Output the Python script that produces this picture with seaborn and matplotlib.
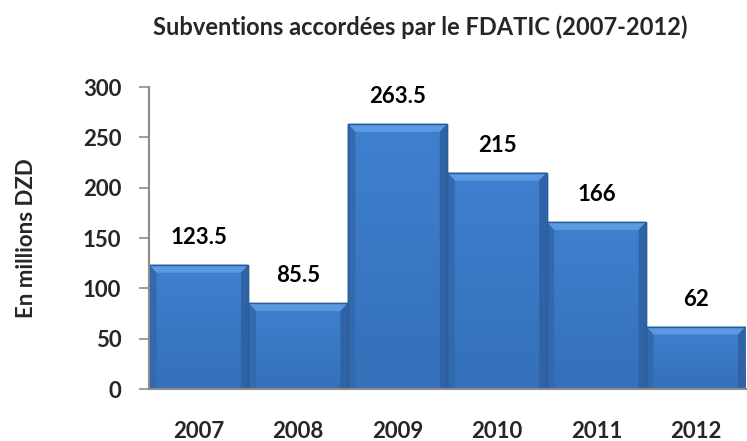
import matplotlib
matplotlib.use("Agg")
import matplotlib.pyplot as plt
import seaborn as sns
import numpy as np
import pandas as pd
from matplotlib.patches import Polygon
from matplotlib.colors import LinearSegmentedColormap

years = ["2007", "2008", "2009", "2010", "2011", "2012"]
values = [123.5, 85.5, 263.5, 215, 166, 62]
value_labels = ["123.5", "85.5", "263.5", "215", "166", "62"]
yticks = [0, 50, 100, 150, 200, 250, 300]
title = "Subventions accordées par le FDATIC (2007-2012)"
ylabel = "En millions DZD"

sns.set_theme(style="white")
plt.rcParams['font.family'] = ['Lato', 'DejaVu Sans']
plt.rcParams['font.weight'] = 'bold'

df = pd.DataFrame({"year": years, "value": values})

fig = plt.figure(figsize=(7.47, 4.41), dpi=100)
ax = fig.add_axes([0.1995, 0.1179, 0.7985, 0.6848])

sns.barplot(data=df, x="year", y="value", ax=ax, width=1.0, color="#3d7cc9",
            saturation=1, edgecolor="#2b5c99", linewidth=1.0)

ax.set_xlim(-0.5, 5.5)
ax.set_ylim(0, 300)
ax.set_yticks(yticks)
ax.set_yticklabels([str(t) for t in yticks], fontsize=16, fontweight='bold')
ax.set_xticks(range(len(years)))
ax.set_xticklabels(years, fontsize=16, fontweight='bold')
ax.tick_params(axis='x', length=0, pad=23)
ax.tick_params(axis='y', length=7, width=1.2, color='#8c8c8c', direction='out', pad=13, left=True)
ax.set_xlabel("")
ax.set_ylabel(ylabel, fontsize=16, fontweight='bold', labelpad=33)

for s in ["top", "right"]:
    ax.spines[s].set_visible(False)
for s in ["left", "bottom"]:
    ax.spines[s].set_color("#8c8c8c")
    ax.spines[s].set_linewidth(1.5)

grad = np.linspace(0, 1, 100).reshape(-1, 1)
cmap = LinearSegmentedColormap.from_list("g", ["#3570b9", "#3f80cf"])
for p, lab in zip(list(ax.patches), value_labels):
    x0, w, h = p.get_x(), p.get_width(), p.get_height()
    z = p.get_zorder()
    im = ax.imshow(grad, extent=[x0, x0 + w, 0, h], aspect='auto', cmap=cmap,
                   origin='lower', zorder=z + 0.1)
    im.set_clip_path(p)
    bev_y = 8
    bev_x = 0.075
    ax.add_patch(Polygon([[x0, h], [x0 + w, h], [x0 + w - bev_x, h - bev_y], [x0 + bev_x, h - bev_y]],
                         closed=True, facecolor="#5b9ae0", edgecolor='none', zorder=z + 0.2))
    ax.add_patch(Polygon([[x0, h], [x0 + bev_x, h - bev_y], [x0 + bev_x, 0], [x0, 0]],
                         closed=True, facecolor="#3369ad", edgecolor='none', zorder=z + 0.2))
    ax.add_patch(Polygon([[x0 + w, h], [x0 + w - bev_x, h - bev_y], [x0 + w - bev_x, 0], [x0 + w, 0]],
                         closed=True, facecolor="#2f63a5", edgecolor='none', zorder=z + 0.2))
    ax.add_patch(Polygon([[x0, 0], [x0, h], [x0 + w, h], [x0 + w, 0]], closed=True,
                         facecolor='none', edgecolor="#2b5c99", linewidth=1.0, zorder=z + 0.3))
    ax.annotate(lab, (x0 + w / 2, h), xytext=(0, 12), textcoords='offset points',
                ha='center', va='bottom', fontsize=16, fontweight='bold', color='black')

ax.set_xlim(-0.5, 5.5)
ax.set_ylim(0, 300)

fig.text(0.5623, 0.939, title, ha='center', va='center', fontsize=17, fontweight='bold')

fig.savefig("out.png", dpi=100)
